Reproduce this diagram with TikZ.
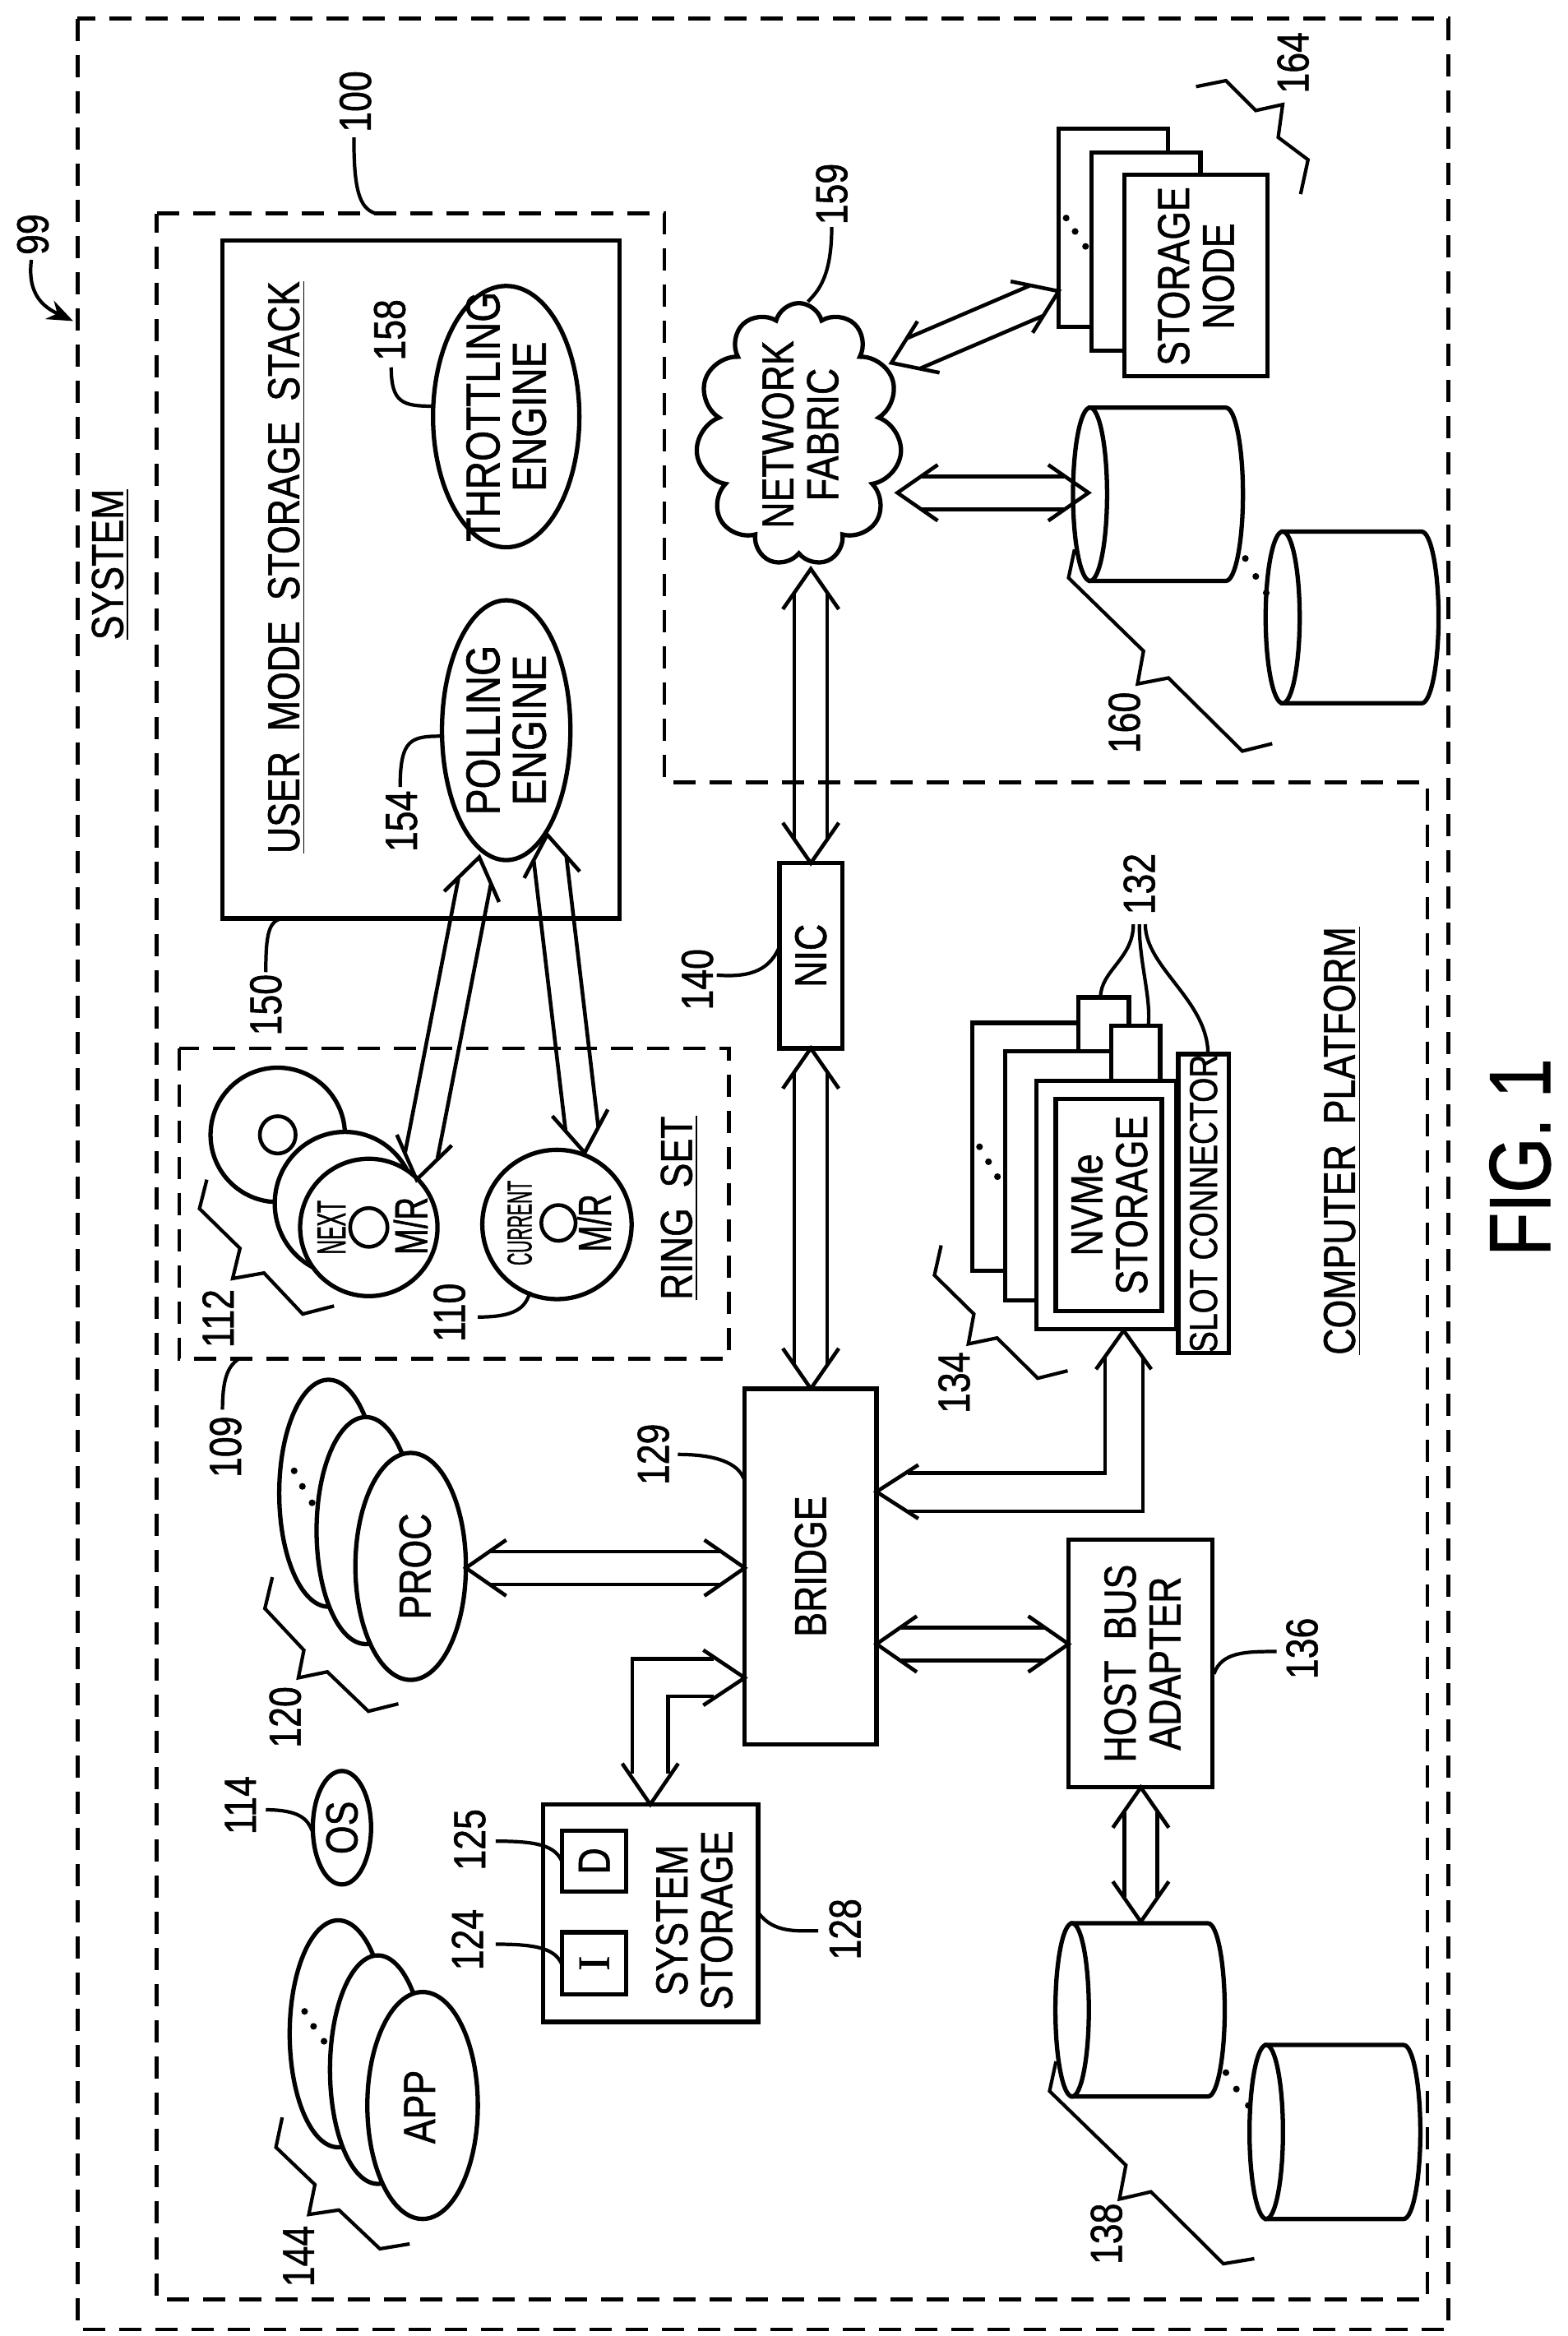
\documentclass[tikz,border=0pt]{standalone}
\usepackage{fontspec}
\setmainfont{Liberation Sans}[FakeStretch=0.82,FakeBold=1]
\newfontfamily\serifI{Liberation Serif}[FakeBold=1]
\newfontfamily\narrowF{Liberation Sans}[FakeStretch=0.5,FakeBold=1]
\newfontfamily\midF{Liberation Sans}[FakeStretch=0.68,FakeBold=1]
\usetikzlibrary{calc,fit,shapes.geometric,shapes.symbols,arrows.meta}
\def\UU{0.01816cm}
\tikzset{
 lab/.style={rotate=90, inner sep=0, font=\fontsize{15.5}{15.5}\selectfont, align=center},
 ell/.style 2 args={draw, ellipse, inner sep=0, minimum width=#1*\UU, minimum height=#2*\UU, fill=white, line width=1.5pt},
 box/.style={draw, inner sep=0, line width=1.5pt, fill=white},
 dsh/.style={line width=1.3pt, dash pattern=on 0.27cm off 0.17cm},
 ln/.style={line width=1.2pt},
 arr/.style={line width=1.3pt, line join=miter},
 dot/.style={fill=black, circle, inner sep=0, minimum size=4.5*\UU}
}
\newcommand\dblarrow[2]{%
 \coordinate (ba) at ($(#1)!0.49cm!(#2)$);
 \coordinate (bb) at ($(#2)!0.49cm!(#1)$);
 \coordinate (sa) at ($(#1)!0.30cm!(#2)$);
 \coordinate (sb) at ($(#2)!0.30cm!(#1)$);
 \draw[arr] ($(ba)!0.34cm!90:(#2)$) -- (#1) -- ($(ba)!0.34cm!-90:(#2)$);
 \draw[arr] ($(bb)!0.34cm!90:(#1)$) -- (#2) -- ($(bb)!0.34cm!-90:(#1)$);
 \draw[arr] ($(sa)!0.2cm!90:(#2)$) -- ($(sb)!0.2cm!-90:(#1)$);
 \draw[arr] ($(sa)!0.2cm!-90:(#2)$) -- ($(sb)!0.2cm!90:(#1)$);
}
\newcommand\cyl[5]{%
 \draw[line width=1.5pt, fill=white] (#1,#3) -- (#2,#3) arc[start angle=90,end angle=-90,x radius=#5*\UU,y radius={(#4-#3)/2*\UU}] -- (#1,#4) -- cycle;
 \draw[line width=1.5pt, fill=white] (#1,{(#3+#4)/2}) ellipse [x radius=#5*\UU, y radius={(#4-#3)/2*\UU}];
}
\begin{document}
\begin{tikzpicture}[x=0.01816cm,y=-0.01816cm]
\useasboundingbox (0,0) rectangle (1049.6,1564.4);
% outer boxes
\draw[dsh] (52,12.5) rectangle (970,1560);
\draw[dsh] (105,143) -- (445,143) -- (445,524) -- (956,524) -- (956,1540) -- (105,1540) -- cycle;
\node[lab] (tsys) at (74,378) {\underline{SYSTEM}};
\node[lab] (t99) at (22,157) {99};
\draw[ln,-{Stealth[length=9pt,width=7pt]}] (21,174) .. controls (18,198) and (30,206) .. (49,215);
\node[lab] (t100) at (238,68) {100};
\draw[ln] (237,92) .. controls (237,125) and (240,140) .. (252,143);
\node[lab] (tcp) at (899,764) {\underline{COMPUTER\ \ PLATFORM}};
\node[lab, font=\fontsize{30}{30}\selectfont] (fig) at (1018,775) {FIG. 1};
% user mode stack
\node[box, fit={(149,161)(415,615)}] (ums) {};
\node[lab] (tums) at (192,380) {\underline{USER\ \ MODE\ \ STORAGE\ \ STACK}};
\node[ell={98}{175}] (te) at (339,279) {};
\node[lab, font=\fontsize{16.5}{16}\selectfont] at (te) {THROTTLING\\ENGINE};
\node[ell={86}{174}] (pe) at (339,489) {};
\node[lab, font=\fontsize{16.5}{16}\selectfont] at (pe) {POLLING\\ENGINE};
\node[lab] (t158) at (261,221) {158};
\draw[ln] (262,246) .. controls (262,270) and (270,272) .. (290,272);
\node[lab] (t154) at (269,550) {154};
\draw[ln] (268,527) .. controls (268,495) and (275,493) .. (296,493);
\node[lab] (t150) at (178,673) {150};
\draw[ln] (178,651) .. controls (178,625) and (180,616) .. (190,615);
% ring set
\draw[dsh] (120,702) rectangle (488,910);
\node[lab] (trs) at (455,809) {\underline{RING\ \ SET}};
\node[ell={90}{90}] (r3) at (186,760) {};
\node[ell={24}{25}, line width=1.3pt] (h3) at (186,760) {};
\node[ell={94}{96}] (r2) at (231,806) {};
\node[ell={92}{92}] (nx) at (247,822) {};
\node[lab, font=\fontsize{14}{14}\narrowF] at (222,822) {NEXT};
\node[ell={25}{26}, line width=1.3pt] at (247,822) {};
\node[lab, font=\fontsize{16}{16}\midF] at (275,821) {M/R};
\node[ell={100}{100}] (cu) at (373,820) {};
\node[lab, font=\fontsize{12}{12}\narrowF] at (348,819) {CURRENT};
\node[ell={23}{24}, line width=1.3pt] at (374,819) {};
\node[lab, font=\fontsize{16}{16}\midF] at (398,819) {M/R};
\node[lab] (t112) at (146,883) {112};
\draw[ln] (138.5,790) -- (133.6,809.4) -- (160.7,836) -- (155.8,856.2) -- (176.8,852.5) -- (202.7,880) -- (223.7,874.6);
\node[lab] (t110) at (301,879) {110};
\draw[ln] (320,882) .. controls (345,882) and (352,876) .. (355,865);
\node[lab] (t109) at (151,969) {109};
\draw[ln] (149,944) .. controls (149,925) and (152,915) .. (160,910);
% polling arrows
\coordinate (pA) at (321,574); \coordinate (nA) at (279,790);
\coordinate (pB) at (366.5,559); \coordinate (cB) at (391.6,772);
\dblarrow{nA}{pA}
\dblarrow{cB}{pB}
% network side
\node[cloud, cloud puffs=11, draw, line width=1.5pt, cloud ignores aspect, minimum width=138*\UU, minimum height=176*\UU, inner sep=0] (cloud) at (535,291) {};
\node[lab] at (536,291) {NETWORK\\FABRIC};
\node[lab] (t159) at (557,130) {159};
\draw[ln] (557,152) .. controls (557,185) and (548,195) .. (541,202);
\node[box, fit={(709,86)(782,219)}] (sn3) {};
\node[box, fit={(731,102)(804,235)}] (sn2) {};
\node[box, fit={(753,117)(849,252)}] (sn1) {};
\node[lab] at (801,185) {STORAGE\\NODE};
\node[dot] at (714,146) {}; \node[dot] at (720,155) {}; \node[dot] at (727,165) {};
\node[lab] (t164) at (866,42) {164};
\draw[ln] (801,58) -- (821,54) -- (841,74) -- (859,70) -- (856,92) -- (876,107) -- (871,130);
\cyl{730}{821}{273}{389}{11.4}
\cyl{859}{952}{356}{471}{11.4}
\node[dot] at (834,374) {}; \node[dot] at (841,386) {}; \node[dot] at (848,397) {};
\node[lab] (t160) at (753,484) {160};
\draw[ln] (719.6,368) -- (715.6,387) -- (765.8,436) -- (761.8,458) -- (782.5,454) -- (832,503) -- (852,498);
\coordinate (cl1) at (597,243); \coordinate (sn) at (709,195);
\coordinate (cl2) at (601,330); \coordinate (cy1) at (729,330);
\dblarrow{cl1}{sn}
\dblarrow{cl2}{cy1}
% NIC
\node[box, fit={(522,578)(564,702)}] (nic) {};
\node[lab] at (nic) {NIC};
\node[lab] (t140) at (467,656) {140};
\draw[ln] (480,653) .. controls (505,655) and (516,648) .. (522,634);
\coordinate (nicT) at (543,578); \coordinate (clB) at (543,381);
\coordinate (nicB) at (543,702); \coordinate (brT) at (543,930);
\dblarrow{nicT}{clB}
\dblarrow{nicB}{brT}
% NVMe
\node[box, fit={(651,685)(735,851)}] (c1) {};
\node[box, fit={(722,668)(756,710)}] (k1) {};
\node[box, fit={(673,704)(760,871)}] (c2) {};
\node[box, fit={(744,687)(777,730)}] (k2) {};
\node[box, fit={(694,724)(788,890)}] (c3) {};
\node[box, fit={(707,736)(778,878)}] (nv) {};
\node[lab] at (743,807) {NVMe\\STORAGE};
\node[box, fit={(789,706)(823,906)}] (slot) {};
\node[lab, font=\fontsize{13.5}{13}\selectfont] at (slot) {SLOT\ CONNECTOR};
\node[dot] at (656,768) {}; \node[dot] at (662,778) {}; \node[dot] at (668,788) {};
\node[lab] (t132) at (763,592) {132};
\draw[ln] (759,619) .. controls (759,642) and (737,650) .. (737,668);
\draw[ln] (763,619) .. controls (763,645) and (771,668) .. (769,687);
\draw[ln] (767,619) .. controls (767,648) and (809,670) .. (809,706);
\node[lab] (t134) at (639,926) {134};
\draw[ln] (630.3,834) -- (625.8,854) -- (652.2,880) -- (648.5,900) -- (667.7,896) -- (695,923) -- (715,918);
% bridge
\node[box, fit={(498.7,930)(587,1168)}] (br) {};
\node[lab] at (br) {BRIDGE};
\node[lab] (t129) at (437.5,974) {129};
\draw[ln] (454,974) .. controls (480,974) and (494,980) .. (498,990);
% bridge-NVMe elbow arrow
\draw[arr] (734,917) -- (752.5,891) -- (771,917);
\draw[arr] (615,981) -- (587,999) -- (615,1017);
\draw[arr] (740,909) -- (740,986.5) -- (608,986.5);
\draw[arr] (765.5,909) -- (765.5,1012) -- (608,1012);
% HBA
\node[box, fit={(715.6,1031)(812,1197)}] (hba) {};
\node[lab] at (765,1114) {HOST\ \ BUS\\ADAPTER};
\node[lab] (t136) at (872,1104) {136};
\draw[ln] (855,1106) .. controls (835,1106) and (818,1106) .. (813,1121);
\coordinate (brR) at (587,1101); \coordinate (hbaL) at (715.6,1101);
\dblarrow{brR}{hbaL}
\cyl{718}{809}{1288}{1404}{11.2}
\cyl{848}{940}{1369.5}{1486}{11.2}
\node[dot] at (821,1388) {}; \node[dot] at (828,1399) {}; \node[dot] at (836,1410) {};
\coordinate (hbaB) at (764,1197); \coordinate (cy3) at (764,1287);
\dblarrow{hbaB}{cy3}
\node[lab] (t138) at (741,1496) {138};
\draw[ln] (707.2,1380.5) -- (702.9,1400.4) -- (754,1450) -- (749.7,1472.7) -- (770.8,1467.8) -- (819.3,1516) -- (840,1512.6);
% proc
\node[ell={66}{152}] (p3) at (220,1000) {};
\node[ell={66}{152}] (p2) at (245,1025) {};
\node[ell={74}{152}] (p1) at (275,1049) {};
\node[lab] at (278,1049) {PROC};
\node[dot] at (197,985) {}; \node[dot] at (202.5,995.4) {}; \node[dot] at (209,1006.4) {};
\node[lab] (t120) at (191,1150) {120};
\draw[ln] (182.4,1056.2) -- (177.4,1077.2) -- (203.5,1105.1) -- (199.8,1123.6) -- (219.2,1119.6) -- (246.7,1146) -- (266.8,1141);
\coordinate (prR) at (312,1050); \coordinate (brL) at (498.7,1050);
\dblarrow{prR}{brL}
% OS
\node[ell={39}{76}] (os) at (229,1224) {};
\node[lab] at (os) {OS};
\node[lab] (t114) at (161,1209) {114};
\draw[ln] (178,1212) .. controls (200,1212) and (206,1218) .. (209,1226);
% system storage
\node[box, fit={(363.8,1208.4)(507.7,1354)}] (ss) {};
\node[box, fit={(376.5,1226)(419.4,1266.7)}] (dd) {};
\node[lab] at (dd) {D};
\node[box, fit={(376.5,1294)(419.4,1335.6)}] (ii) {};
\node[lab, font=\fontsize{15.5}{15.5}\serifI] at (ii) {I};
\node[lab] at (465,1286) {SYSTEM\\STORAGE};
\node[lab] (t125) at (314.6,1232) {125};
\draw[ln] (332,1233) .. controls (360,1233) and (372,1236) .. (376.5,1247);
\node[lab] (t124) at (313,1299) {124};
\draw[ln] (332,1302) .. controls (360,1302) and (372,1305) .. (376.5,1316);
\node[lab] (t128) at (566,1292) {128};
\draw[ln] (508,1281) .. controls (518,1295) and (535,1293) .. (548,1293);
% bridge - system storage elbow
\draw[arr] (471,1105) -- (498.7,1123.6) -- (471,1142);
\draw[arr] (416.7,1181) -- (435.5,1208.4) -- (454.2,1181);
\draw[arr] (478,1111) -- (423.4,1111) -- (423.4,1188);
\draw[arr] (478,1136) -- (447.5,1136) -- (447.5,1188);
% app
\node[ell={65}{152}] (a3) at (226.5,1362) {};
\node[ell={64}{153}] (a2) at (253,1386) {};
\node[ell={74}{152}] (a1) at (283,1410) {};
\node[lab] at (281,1411) {APP};
\node[dot] at (204,1347) {}; \node[dot] at (210,1357) {}; \node[dot] at (217,1367) {};
\node[lab] (t144) at (200,1511) {144};
\draw[ln] (189,1418) -- (184.8,1438) -- (210.9,1463) -- (206.8,1483) -- (227,1480) -- (254.4,1506) -- (274.4,1502.7);
\end{tikzpicture}
\end{document}
